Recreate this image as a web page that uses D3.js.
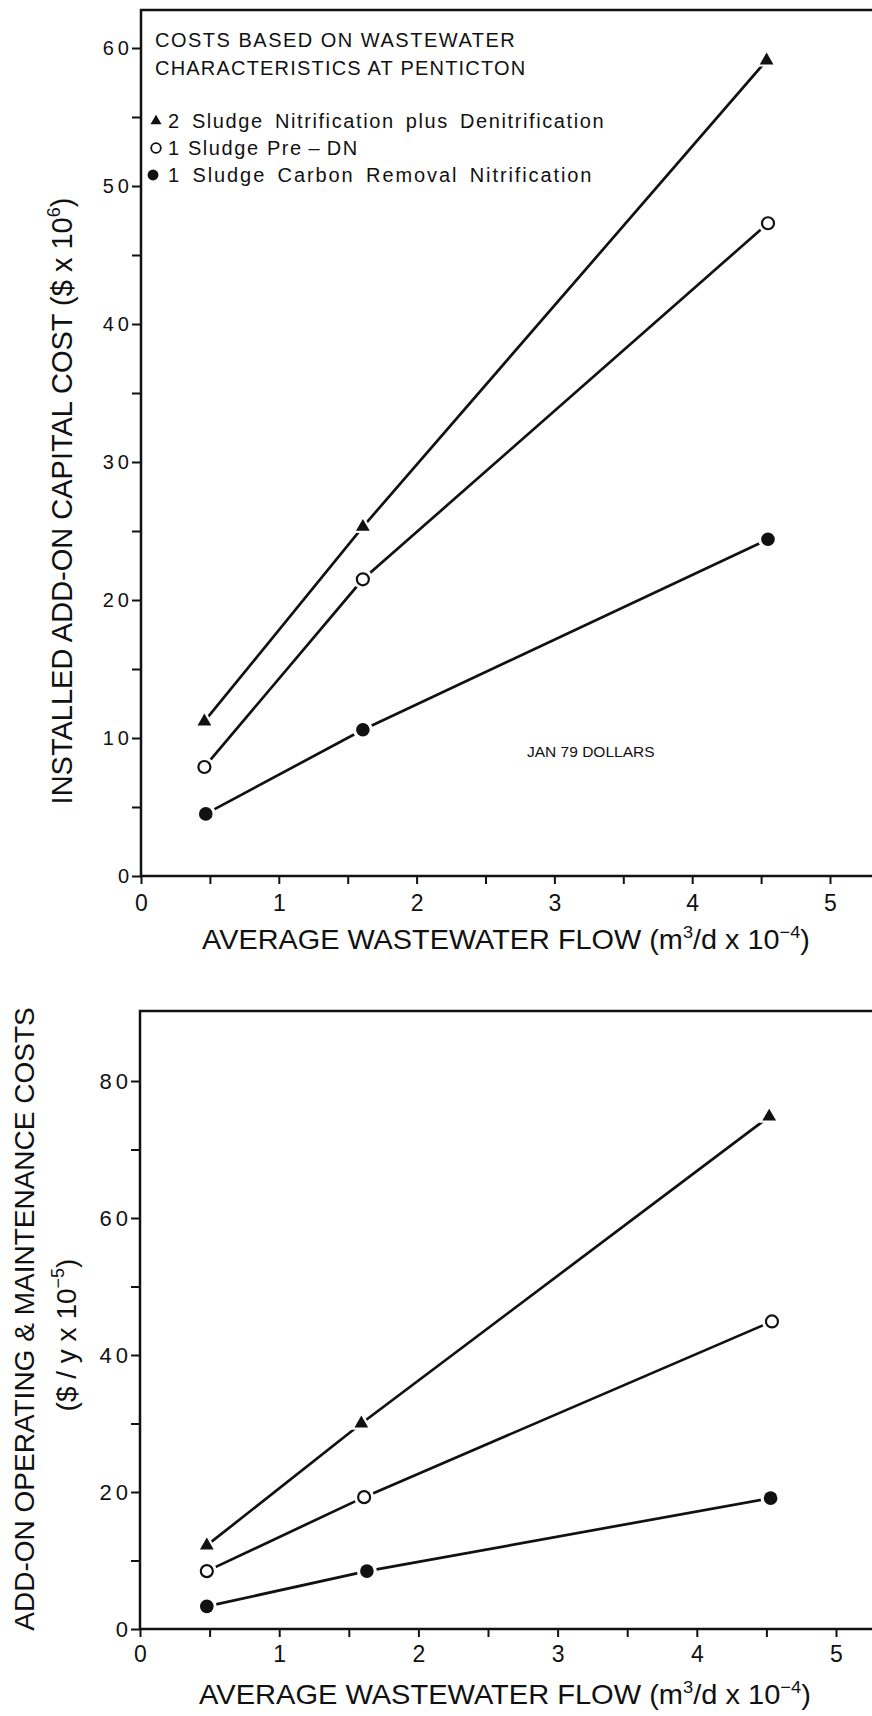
<!DOCTYPE html>
<html><head><meta charset="utf-8">
<script src="https://cdn.jsdelivr.net/npm/d3@7"></script>
<style>
html,body{margin:0;padding:0;background:#fff;}
svg{display:block;}
text{font-family:"Liberation Sans", Arial, Helvetica, sans-serif; fill:#111;}
</style></head><body>
<svg id="chart" width="872" height="1716"></svg>
<script>
// ---------- data ----------
const xTicks = [0, 1, 2, 3, 4, 5];
const xMinorTicks = [0.5, 1.5, 2.5, 3.5, 4.5];
const capYTicks = [0, 10, 20, 30, 40, 50, 60];
const capYMinor = [5, 15, 25, 35, 45, 55];
const omYTicks = [0, 20, 40, 60, 80];
const omYMinor = [10, 30, 50, 70];
const seriesNames = ["2 Sludge Nitrification plus Denitrification", "1 Sludge Pre\u2009\u2013\u2009DN", "1 Sludge Carbon Removal Nitrification"];
const seriesMarkers = ["triangle", "open", "filled"];
// capital cost chart ($ x 10^6) vs flow (m3/d x 10^-4)
const capFlowTwoSludge = [0.46, 1.61, 4.54];
const capFlowPreDN = [0.46, 1.61, 4.55];
const capFlowCarbon = [0.47, 1.61, 4.55];
const capTwoSludge = [11.2, 25.3, 59.1];
const capPreDN = [7.9, 21.5, 47.3];
const capCarbon = [4.5, 10.6, 24.4];
// O&M cost chart ($/y x 10^-5)
const omFlowTwoSludge = [0.48, 1.59, 4.52];
const omFlowPreDN = [0.48, 1.61, 4.54];
const omFlowCarbon = [0.48, 1.63, 4.53];
const omTwoSludge = [12.2, 30.0, 74.8];
const omPreDN = [8.45, 19.25, 44.9];
const omCarbon = [3.3, 8.45, 19.1];

// ---------- drawing ----------
const svg = d3.select("#chart");
const W = 872;

function drawMarker(sel, kind, halo) {
  if (kind === "triangle") {
    if (halo) sel.append("path").attr("d", d3.symbol(d3.symbolTriangle, 200)()).attr("fill", "#fff");
    sel.append("path").attr("d", d3.symbol(d3.symbolTriangle, 82)()).attr("fill", "#111");
  } else if (kind === "open") {
    if (halo) sel.append("circle").attr("r", 10).attr("fill", "#fff");
    sel.append("circle").attr("r", 6).attr("fill", "#fff").attr("stroke", "#111").attr("stroke-width", 2.2);
  } else {
    if (halo) sel.append("circle").attr("r", 10).attr("fill", "#fff");
    sel.append("circle").attr("r", 6.8).attr("fill", "#111");
  }
}

function drawPanel(cfg) {
  const g = svg.append("g");
  const x = d3.scaleLinear().domain([0, 5]).range(cfg.xRange);
  const y = d3.scaleLinear().domain(cfg.yDomain).range(cfg.yRange);
  const x0 = x(0), yb = y(0);

  g.append("path")
    .attr("d", `M${W},${cfg.topY}H${x0}V${yb}H${W}`)
    .attr("fill", "none").attr("stroke", "#111").attr("stroke-width", 2.5);

  const ya = g.append("g").attr("transform", `translate(${x0},0)`)
    .call(d3.axisLeft(y).tickValues(cfg.yTicks).tickSize(9).tickPadding(3).tickFormat(d3.format("d")));
  ya.select(".domain").remove();
  ya.selectAll("line").attr("stroke", "#111").attr("stroke-width", 2);
  ya.selectAll("text").attr("font-size", cfg.yTickFont).attr("fill", "#111")
    .style("letter-spacing", cfg.yTickLS + "px").attr("dx", cfg.yTickLS + "px")
    .attr("font-family", "Liberation Sans, Arial, sans-serif");
  const ym = g.append("g").attr("transform", `translate(${x0},0)`)
    .call(d3.axisLeft(y).tickValues(cfg.yMinor).tickSize(9).tickFormat(""));
  ym.select(".domain").remove();
  ym.selectAll("line").attr("stroke", "#111").attr("stroke-width", 2);

  const xa = g.append("g").attr("transform", `translate(0,${yb})`)
    .call(d3.axisBottom(x).tickValues(xTicks).tickSize(8).tickPadding(0).tickFormat(d3.format("d")));
  xa.select(".domain").remove();
  xa.selectAll("line").attr("stroke", "#111").attr("stroke-width", 2);
  xa.selectAll("text").attr("font-size", 23).attr("fill", "#111")
    .attr("y", cfg.xTickBase - yb).attr("dy", 0)
    .attr("font-family", "Liberation Sans, Arial, sans-serif");
  const xm = g.append("g").attr("transform", `translate(0,${yb})`)
    .call(d3.axisBottom(x).tickValues(xMinorTicks).tickSize(8).tickFormat(""));
  xm.select(".domain").remove();
  xm.selectAll("line").attr("stroke", "#111").attr("stroke-width", 2);

  const xt = g.append("text").attr("font-size", 27).attr("text-anchor", "middle");
  xt.append("tspan").text("AVERAGE WASTEWATER FLOW (m");
  xt.append("tspan").attr("font-size", 17).attr("dy", -11).text("3");
  xt.append("tspan").attr("dy", 11).text("/d x 10");
  xt.append("tspan").attr("font-size", 17).attr("dy", -11).text("\u22124");
  xt.append("tspan").attr("dy", 11).text(")");
  const wl = xt.node().getComputedTextLength();
  xt.attr("transform", `translate(${cfg.xTitleX},${cfg.xTitleY}) scale(${cfg.xTitleW / wl},1)`);

  const line = d3.line().x(d => x(d[0])).y(d => y(d[1]));
  cfg.series.forEach((s) => {
    const pts = s.fx.map((fx, k) => [fx, s.v[k]]);
    g.append("path").datum(pts).attr("d", line)
      .attr("fill", "none").attr("stroke", "#111").attr("stroke-width", 2.7);
  });
  cfg.series.forEach((s, i) => {
    const pts = s.fx.map((fx, k) => [fx, s.v[k]]);
    const mk = g.selectAll(null).data(pts).enter().append("g")
      .attr("transform", d => `translate(${x(d[0])},${y(d[1])})`);
    drawMarker(mk, seriesMarkers[i], true);
  });
  return {x, y, g};
}

// ---- top panel: capital cost ----
drawPanel({
  xRange: [141, 830], yDomain: [0, 60], yRange: [876, 48], topY: 10,
  yTicks: capYTicks, yMinor: capYMinor, yTickFont: 20, yTickLS: 4,
  xTickBase: 911, xTitleX: 506, xTitleY: 949, xTitleW: 608,
  series: [
    {fx: capFlowTwoSludge, v: capTwoSludge},
    {fx: capFlowPreDN, v: capPreDN},
    {fx: capFlowCarbon, v: capCarbon}
  ]
});
const yt1 = svg.append("text").attr("font-size", 29).attr("text-anchor", "middle")
  .attr("transform", "translate(72,501) rotate(-90)");
yt1.append("tspan").text("INSTALLED ADD-ON CAPITAL COST  ($ x 10");
yt1.append("tspan").attr("font-size", 18).attr("dy", -12).text("6");
yt1.append("tspan").attr("dy", 12).text(")");

const lg = svg.append("g");
lg.append("text").attr("x", 155).attr("y", 47).attr("font-size", 20).style("letter-spacing", "1.5px").text("COSTS BASED ON WASTEWATER");
lg.append("text").attr("x", 155).attr("y", 75).attr("font-size", 20).style("letter-spacing", "1.2px").text("CHARACTERISTICS AT PENTICTON");
seriesNames.forEach((name, i) => {
  const by = 128 + i * 27;
  const m = lg.append("g").attr("transform", `translate(${i === 2 ? 153 : 156},${by - 7})`);
  const mm = m.append("g").attr("transform", "scale(0.8)");
  drawMarker(mm, seriesMarkers[i], false);
  lg.append("text").attr("x", 168).attr("y", by).attr("font-size", 20)
    .style("letter-spacing", i === 2 ? "1.9px" : "1.6px")
    .style("word-spacing", i === 1 ? "0px" : "4px").text(name);
});
svg.append("text").attr("x", 527).attr("y", 757).attr("font-size", 15.5).text("JAN 79 DOLLARS");

// ---- bottom panel: O&M ----
drawPanel({
  xRange: [140, 836], yDomain: [0, 80], yRange: [1629, 1081], topY: 1011,
  yTicks: omYTicks, yMinor: omYMinor, yTickFont: 22, yTickLS: 4,
  xTickBase: 1662, xTitleX: 505, xTitleY: 1704, xTitleW: 612,
  series: [
    {fx: omFlowTwoSludge, v: omTwoSludge},
    {fx: omFlowPreDN, v: omPreDN},
    {fx: omFlowCarbon, v: omCarbon}
  ]
});
svg.append("text").attr("font-size", 28).attr("text-anchor", "middle")
  .attr("transform", "translate(34,1319) rotate(-90)")
  .text("ADD-ON OPERATING & MAINTENANCE COSTS");
const yb2 = svg.append("text").attr("font-size", 28).attr("text-anchor", "middle")
  .attr("transform", "translate(76,1335) rotate(-90)");
yb2.append("tspan").text("($ / y x 10");
yb2.append("tspan").attr("font-size", 18).attr("dy", -12).text("\u22125");
yb2.append("tspan").attr("dy", 12).text(")");
</script>
</body></html>
